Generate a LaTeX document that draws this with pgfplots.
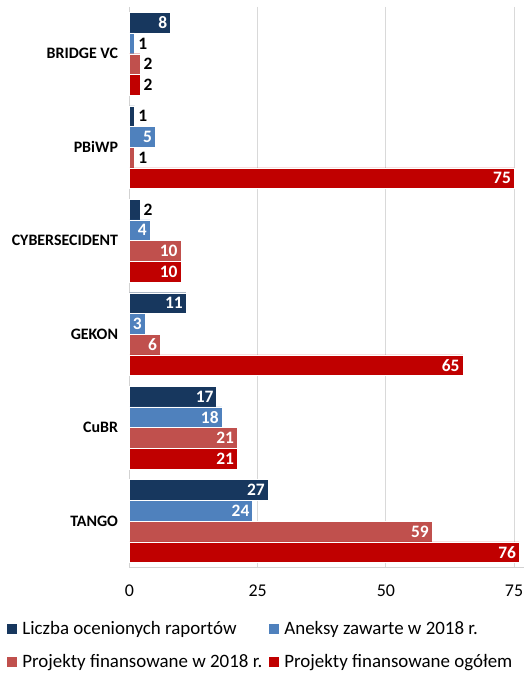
\documentclass[border=0pt]{standalone}
\usepackage{fontspec}
\setmainfont{Carlito}
\usepackage{pgfplots}
\pgfplotsset{compat=1.18}

\definecolor{navy}{HTML}{17375E}
\definecolor{midblue}{HTML}{4F81BD}
\definecolor{softred}{HTML}{C0504D}
\definecolor{deepred}{HTML}{C00000}

\begin{document}
\begin{tikzpicture}[font=\fontsize{18}{21}\selectfont]
\begin{axis}[
    xbar=0pt,
    scale only axis,
    width=396.3pt, height=563pt,
    y dir=reverse,
    ymin=-0.5, ymax=5.5,
    xmin=0, xmax=77,
    bar width=20.8pt,
    ytick={0,1,2,3,4,5},
    yticklabels={BRIDGE VC,PBiWP,CYBERSECIDENT,GEKON,CuBR,TANGO},
    yticklabel style={font=\fontsize{16}{19}\selectfont\bfseries, xshift=-8pt},
    xtick={0,25,50,75},
    xticklabel style={yshift=-14pt, font=\fontsize{18}{21}\selectfont},
    /pgf/number format/assume math mode=true,
    xmajorgrids,
    grid style={gray!30, line width=0.8pt},
    axis lines*=left,
    axis line style={gray!35, line width=0.8pt},
    major tick length=0pt,
    every axis plot/.append style={draw=white, line width=0.4pt},
    visualization depends on={x \as \rawx},
    nodes near coords={\ifdim\rawx pt<3pt\makebox[0pt][l]{\hspace{7pt}\textcolor{black}{\pgfmathprintnumber{\rawx}}}\else\pgfmathprintnumber{\rawx}\fi},
    nodes near coords style={font=\fontsize{17.5}{20}\selectfont\bfseries, anchor=east, text=white, inner sep=3pt},
    clip=false,
    legend columns=2,
    legend cell align=left,
    legend style={draw=none, at={(0,0)}, anchor=north west,
        xshift=-126pt, yshift=-50pt, row sep=14pt,
        font=\fontsize{19}{22}\selectfont,
        /tikz/every even column/.append style={column sep=5pt}},
    legend image code/.code={\fill[#1, draw=none] (0pt,-5pt) rectangle (10pt,5pt); \path (13pt,0pt);},
]
\addplot[fill=navy, bar shift=31.2pt] coordinates {(8,0) (1,1) (2,2) (11,3) (17,4) (27,5)};
\addplot[fill=midblue, bar shift=10.4pt] coordinates {(1,0) (5,1) (4,2) (3,3) (18,4) (24,5)};
\addplot[fill=softred, bar shift=-10.4pt] coordinates {(2,0) (1,1) (10,2) (6,3) (21,4) (59,5)};
\addplot[fill=deepred, bar shift=-31.2pt] coordinates {(2,0) (75,1) (10,2) (65,3) (21,4) (76,5)};
\legend{Liczba ocenionych raportów, Aneksy zawarte w 2018 r., Projekty finansowane w 2018 r., Projekty finansowane ogółem}
\end{axis}
\path ([xshift=-130pt,yshift=-103pt]current axis.south west) rectangle ([xshift=6pt,yshift=7pt]current axis.north east);
\end{tikzpicture}
\end{document}
